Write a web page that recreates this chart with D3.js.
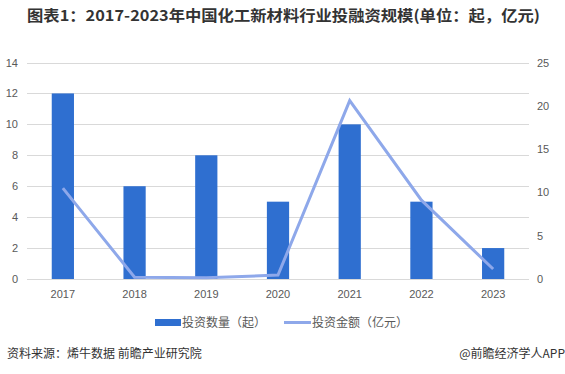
<!DOCTYPE html>
<html><head><meta charset="utf-8">
<script src="https://cdn.jsdelivr.net/npm/d3@7"></script>
<style>
body{margin:0;background:#fff;}
svg{display:block;font-family:"Noto Sans CJK SC","Microsoft YaHei",sans-serif;}
</style></head>
<body><div id="chart"></div>
<script>
const years = ["2017","2018","2019","2020","2021","2022","2023"];
const counts = [12, 6, 8, 5, 10, 5, 2];
const amounts = [10.5, 0.2, 0.15, 0.45, 20.6, 9.1, 1.15];
const leftTicks = [0,2,4,6,8,10,12,14];
const rightTicks = [0,5,10,15,20,25];
const title = "图表1：2017-2023年中国化工新材料行业投融资规模(单位：起，亿元)";
const source = "资料来源：烯牛数据 前瞻产业研究院";
const credit = "@前瞻经济学人APP";
const legendLabels = ["投资数量（起）","投资金额（亿元）"];

(function(){
const W = 565, H = 374;
const svg = d3.select("#chart").append("svg").attr("width", W).attr("height", H);
const pL = 27, pR = 529, pT = 62.5, pB = 279;
const x = d3.scaleBand().domain(years).range([pL, pR]).paddingInner(0.69).paddingOuter(0.345);
const yL = d3.scaleLinear().domain([0,14]).range([pB, pT]);
const yR = d3.scaleLinear().domain([0,25]).range([pB, pT]);

svg.append("g").selectAll("line").data(leftTicks).join("line")
  .attr("x1", pL).attr("x2", pR)
  .attr("y1", d=>Math.round(yL(d))+0.5).attr("y2", d=>Math.round(yL(d))+0.5)
  .attr("stroke", "#d9d9d9").attr("stroke-width", 1);

svg.append("g").selectAll("rect").data(counts).join("rect")
  .attr("x", (d,i)=>x(years[i])).attr("width", x.bandwidth())
  .attr("y", d=>yL(d)).attr("height", d=>pB - yL(d))
  .attr("fill", "#2F6FD0");

const line = d3.line().x((d,i)=>x(years[i]) + x.bandwidth()/2).y(d=>yR(d));
svg.append("path").datum(amounts).attr("d", line)
  .attr("fill","none").attr("stroke","#8EA8EA").attr("stroke-width",3).attr("stroke-linejoin","miter");

svg.append("g").selectAll("text").data(leftTicks).join("text")
  .attr("x", 18).attr("y", d=>yL(d)+4)
  .attr("text-anchor","end").attr("font-size",11).attr("fill","#595959")
  .attr("font-family","'Liberation Sans',Arial,sans-serif")
  .text(d=>d);
svg.append("g").selectAll("text").data(rightTicks).join("text")
  .attr("x", 537).attr("y", d=>yR(d)+4)
  .attr("text-anchor","start").attr("font-size",11).attr("fill","#595959")
  .attr("font-family","'Liberation Sans',Arial,sans-serif")
  .text(d=>d);
svg.append("g").selectAll("text").data(years).join("text")
  .attr("x", d=>x(d)+x.bandwidth()/2).attr("y", 298)
  .attr("text-anchor","middle").attr("font-size",11).attr("fill","#595959")
  .attr("font-family","'Liberation Sans',Arial,sans-serif")
  .text(d=>d);

svg.append("text").attr("x", 27).attr("y", 21)
  .attr("font-size", 15).attr("font-weight","bold").attr("fill","#333")
  .attr("textLength", 513).attr("lengthAdjust","spacingAndGlyphs")
  .text(title);

const lg = svg.append("g");
lg.append("rect").attr("x",155).attr("y",319).attr("width",26).attr("height",7).attr("fill","#2F6FD0");
lg.append("text").attr("x",182).attr("y",327).attr("font-size",12).attr("fill","#595959").text(legendLabels[0]);
lg.append("line").attr("x1",284).attr("x2",311).attr("y1",322.5).attr("y2",322.5).attr("stroke","#8EA8EA").attr("stroke-width",3);
lg.append("text").attr("x",312).attr("y",327).attr("font-size",12).attr("fill","#595959").text(legendLabels[1]);

svg.append("text").attr("x",7).attr("y",358).attr("font-size",12).attr("fill","#333").text(source);
svg.append("text").attr("x",565).attr("y",358).attr("text-anchor","end").attr("font-size",12).attr("fill","#333").text(credit);
})();
</script></body></html>
